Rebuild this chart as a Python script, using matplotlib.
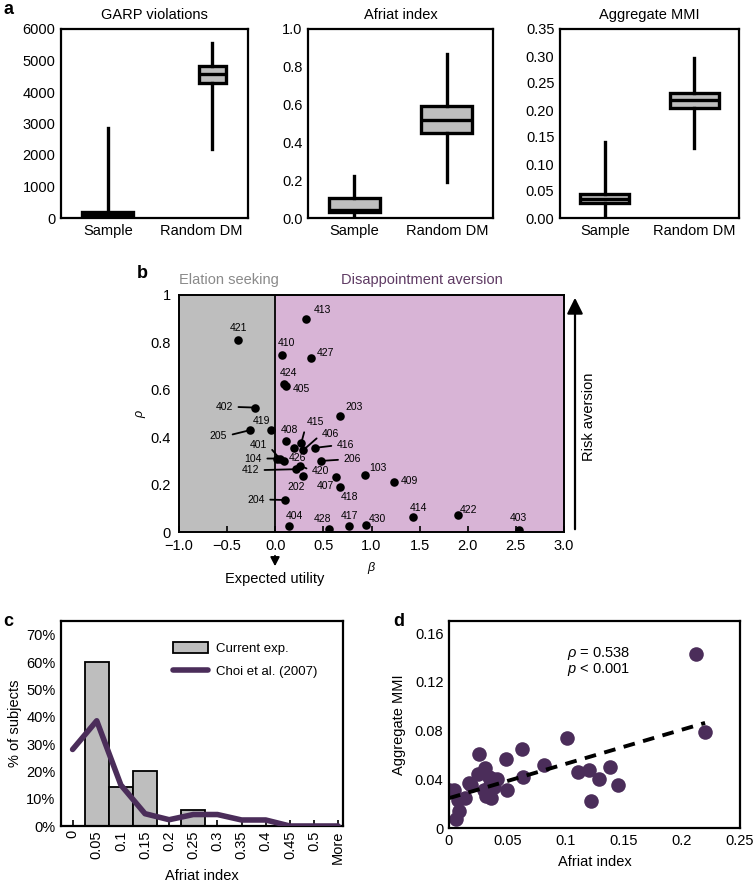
import matplotlib
matplotlib.use("Agg")
import matplotlib.pyplot as plt
import numpy as np
from matplotlib.patches import Patch
from matplotlib.lines import Line2D

plt.rcParams['font.family'] = ['Liberation Sans', 'DejaVu Sans']
plt.rcParams['mathtext.fontset'] = 'custom'
plt.rcParams['mathtext.rm'] = 'Liberation Sans'
plt.rcParams['mathtext.it'] = 'Liberation Sans:italic'
plt.rcParams['axes.unicode_minus'] = True

# ---------------- DATA ----------------
# Panel a: box plot summaries (whislo, q1, med, q3, whishi)
garp_titles = ["GARP violations", "Afriat index", "Aggregate MMI"]
box_groups = ["Sample", "Random DM"]
garp_sample = [0, 10, 100, 200, 2870]
garp_random = [2200, 4280, 4580, 4820, 5550]
afriat_sample = [0.0, 0.03, 0.04, 0.105, 0.22]
afriat_random = [0.19, 0.45, 0.52, 0.59, 0.87]
mmi_sample = [0.005, 0.028, 0.035, 0.045, 0.14]
mmi_random = [0.13, 0.203, 0.218, 0.232, 0.297]

# Panel b: subject estimates (beta, rho)
b_labels = ["413", "421", "410", "427", "424", "405", "402", "203", "205", "419",
            "408", "415", "406", "416", "", "401", "104", "426", "206", "412",
            "420", "103", "202", "407", "409", "418", "204", "404", "428", "417",
            "430", "414", "422", "403"]
b_beta = [0.32, -0.39, 0.07, 0.37, 0.09, 0.115, -0.21, 0.67, -0.26, -0.045,
          0.11, 0.27, 0.29, 0.41, 0.19, 0.045, 0.015, 0.09, 0.48, 0.215,
          0.26, 0.93, 0.29, 0.63, 1.23, 0.67, 0.10, 0.14, 0.56, 0.77,
          0.94, 1.43, 1.90, 2.53]
b_rho = [0.90, 0.81, 0.745, 0.735, 0.625, 0.615, 0.525, 0.49, 0.43, 0.43,
         0.385, 0.375, 0.345, 0.355, 0.355, 0.31, 0.31, 0.30, 0.30, 0.265,
         0.28, 0.24, 0.235, 0.23, 0.21, 0.19, 0.135, 0.025, 0.013, 0.025,
         0.03, 0.062, 0.07, 0.01]
# label text positions (beta, rho) and whether a leader line is drawn
b_text_x = [0.49, -0.38, 0.12, 0.52, 0.14, 0.27, -0.53, 0.82, -0.59, -0.14,
            0.15, 0.42, 0.57, 0.73, 0.19, -0.17, -0.23, 0.23, 0.80, -0.26,
            0.47, 1.07, 0.22, 0.52, 1.39, 0.77, -0.20, 0.20, 0.49, 0.77,
            1.06, 1.49, 2.01, 2.53]
b_text_y = [0.937, 0.859, 0.799, 0.756, 0.669, 0.603, 0.528, 0.528, 0.406, 0.469,
            0.430, 0.465, 0.413, 0.366, 0.355, 0.369, 0.310, 0.313, 0.306, 0.261,
            0.258, 0.272, 0.190, 0.193, 0.215, 0.148, 0.137, 0.066, 0.056, 0.066,
            0.056, 0.100, 0.093, 0.058]
b_leader = [0, 0, 0, 0, 0, 0, 1, 0, 1, 0,
            0, 1, 1, 1, 0, 1, 1, 0, 1, 1,
            1, 0, 1, 0, 0, 0, 1, 0, 0, 0,
            0, 0, 0, 0]

# Panel c: histogram of Afriat index
c_bins = ["0", "0.05", "0.1", "0.15", "0.2", "0.25", "0.3", "0.35", "0.4", "0.45", "0.5", "More"]
c_current = [0.0, 60.0, 14.3, 20.0, 0.0, 5.7, 0.0, 0.0, 0.0, 0.0, 0.0, 0.0]
c_choi = [28.0, 38.5, 15.0, 4.5, 2.3, 4.2, 4.2, 2.2, 2.2, 0.0, 0.0, 0.0]

# Panel d: Afriat index vs aggregate MMI
d_afriat = [0.212, 0.220, 0.101, 0.063, 0.026, 0.049, 0.082, 0.111, 0.120, 0.138,
            0.129, 0.145, 0.122, 0.064, 0.050, 0.031, 0.025, 0.038, 0.035, 0.032,
            0.036, 0.039, 0.034, 0.017, 0.019, 0.014, 0.008, 0.009, 0.006, 0.000,
            0.004, 0.030, 0.041]
d_mmi = [0.143, 0.079, 0.074, 0.065, 0.061, 0.057, 0.052, 0.046, 0.048, 0.050,
         0.040, 0.035, 0.022, 0.042, 0.031, 0.049, 0.044, 0.040, 0.035, 0.026,
         0.025, 0.034, 0.042, 0.037, 0.035, 0.025, 0.023, 0.014, 0.007, 0.031,
         0.031, 0.031, 0.040]
d_fit_intercept = 0.0245
d_fit_slope = 0.281
d_fit_range = [0.0, 0.22]

# ---------------- STYLE ----------------
PURPLE = '#4B2D5A'
GREY_BOX = '#BEBEBE'
W, H = 754, 882
fig = plt.figure(figsize=(W / 100, H / 100), dpi=100)


def px_axes(l, t, r, b):
    return fig.add_axes([l / W, 1 - b / H, (r - l) / W, (b - t) / H])


def style_spines(ax, lw):
    for s in ax.spines.values():
        s.set_linewidth(lw)


def stats(v, label):
    return dict(whislo=v[0], q1=v[1], med=v[2], q3=v[3], whishi=v[4], fliers=[], label=label)

# ---------------- Panel a ----------------
a_boxes = [(61, 248), (308, 493), (560, 739)]
a_data = [(garp_sample, garp_random), (afriat_sample, afriat_random), (mmi_sample, mmi_random)]
a_ylim = [(0, 6000), (0, 1.0), (0, 0.35)]
a_ticks = [np.arange(0, 6001, 1000), np.arange(0, 1.01, 0.2), np.arange(0, 0.351, 0.05)]
a_fmt = ["{:.0f}", "{:.1f}", "{:.2f}"]
a_pos = [[1, 2.12], [1, 2], [1, 2]]
a_w = [[0.55, 0.29], [0.55, 0.55], [0.55, 0.55]]
for i, (l, r) in enumerate(a_boxes):
    ax = px_axes(l, 29, r, 218)
    s, rd = a_data[i]
    ax.bxp([stats(s, box_groups[0]), stats(rd, box_groups[1])], positions=a_pos[i], widths=a_w[i],
           patch_artist=True, showcaps=False, showfliers=False,
           boxprops=dict(facecolor=GREY_BOX, edgecolor='black', linewidth=2.4),
           medianprops=dict(color='black', linewidth=2.4),
           whiskerprops=dict(color='black', linewidth=2.4))
    ax.set_xlim(0.5, 2.5)
    ax.set_ylim(*a_ylim[i])
    ax.set_xticks([1, 2])
    ax.set_xticklabels(box_groups, fontsize=10.5)
    ax.set_yticks(a_ticks[i])
    ax.set_yticklabels([a_fmt[i].format(t) for t in a_ticks[i]], fontsize=10.5)
    ax.tick_params(length=0, pad=4)
    ax.set_title(garp_titles[i], fontsize=10.5, pad=7)
    style_spines(ax, 1.6)
fig.text(3 / W, 1 - 10 / H, 'a', fontsize=13, fontweight='bold', va='center', ha='left')

# ---------------- Panel b ----------------
axb = px_axes(179, 295, 564, 532)
axb.axvspan(-1.0, 0.0, color='#BEBEBE', zorder=0, lw=0)
axb.axvspan(0.0, 3.0, color='#D8B4D6', zorder=0, lw=0)
axb.axvline(0.0, color='black', lw=1.3, zorder=1)
axb.scatter(b_beta, b_rho, s=38, color='black', zorder=3, linewidths=0)
for lab, px, py, tx, ty, ld in zip(b_labels, b_beta, b_rho, b_text_x, b_text_y, b_leader):
    if not lab:
        continue
    if ld:
        rel = (1, 0.5) if tx < px else (0, 0.5)
        axb.annotate(lab, xy=(px, py), xytext=(tx, ty), fontsize=7.5, ha='center', va='center',
                     arrowprops=dict(arrowstyle='-', lw=1.3, color='black', shrinkA=2, shrinkB=0,
                                     relpos=rel), zorder=2)
    else:
        axb.text(tx, ty, lab, fontsize=7.5, ha='center', va='center', zorder=2)
axb.set_xlim(-1.0, 3.0)
axb.set_ylim(0, 1)
axb.set_xticks(np.arange(-1.0, 3.01, 0.5))
axb.set_xticklabels([f"{t:.1f}".replace('-', '\u2212') for t in np.arange(-1.0, 3.01, 0.5)], fontsize=10.5)
axb.set_yticks([0, 0.2, 0.4, 0.6, 0.8, 1.0])
axb.set_yticklabels(["0", "0.2", "0.4", "0.6", "0.8", "1"], fontsize=10.5)
axb.tick_params(axis='x', direction='in', length=4, width=1.2, pad=5)
axb.tick_params(axis='y', length=0, pad=6)
style_spines(axb, 1.4)
axb.set_ylabel(r'$\rho$', fontsize=9, labelpad=2)
axb.set_xlabel(r'$\beta$', fontsize=9, labelpad=5)
axb.text(-1.0, 1.035, 'Elation seeking', color='#8A8A8A', fontsize=10.5,
         ha='left', va='bottom', clip_on=False)
axb.text(0.68, 1.035, 'Disappointment aversion', color='#5E3A63', fontsize=10.5,
         ha='left', va='bottom', clip_on=False)
fig.text(137 / W, 1 - 273 / H, 'b', fontsize=13, fontweight='bold', va='center', ha='left')
# Risk aversion arrow
fig.add_artist(matplotlib.patches.FancyArrowPatch((575 / W, 1 - 532 / H), (575 / W, 1 - 295 / H),
               transform=fig.transFigure, arrowstyle='-|>,head_length=6,head_width=3',
               mutation_scale=1.6, lw=1.6, color='black'))
fig.text(589 / W, 1 - 417 / H, 'Risk aversion', rotation=90, fontsize=10.5, va='center', ha='center')
# Expected utility arrow
fig.add_artist(matplotlib.patches.FancyArrowPatch((275 / W, 1 - 553 / H), (275 / W, 1 - 569 / H),
               transform=fig.transFigure, arrowstyle='-|>,head_length=3.5,head_width=1.8',
               mutation_scale=1.5, lw=1.3, color='black'))
fig.text(275 / W, 1 - 579 / H, 'Expected utility', fontsize=10.5, va='center', ha='center')

# ---------------- Panel c ----------------
axc = px_axes(61, 621, 343, 826)
xc = np.arange(len(c_bins))
axc.bar(xc, c_current, width=1.0, color=GREY_BOX, edgecolor='black', linewidth=1.3,
        label='Current exp.', zorder=2)
axc.plot(xc, c_choi, color=PURPLE, lw=4, solid_joinstyle='round', solid_capstyle='round',
         label='Choi et al. (2007)', zorder=3)
axc.set_xlim(-0.48, 11.2)
axc.set_ylim(0, 75)
axc.set_yticks(np.arange(0, 71, 10))
axc.set_yticklabels([f"{t}%" for t in range(0, 71, 10)], fontsize=10.5)
axc.set_xticks(xc)
axc.set_xticklabels(c_bins, rotation=90, fontsize=10.5)
axc.tick_params(axis='x', direction='in', length=4, width=1.2, pad=3)
axc.tick_params(axis='y', length=0, pad=4)
axc.set_xlabel('Afriat index', fontsize=10.5, labelpad=4)
axc.set_ylabel('% of subjects', fontsize=10.5, labelpad=3)
style_spines(axc, 1.6)
handles = [Patch(facecolor=GREY_BOX, edgecolor='black', linewidth=1.3),
           Line2D([0], [0], color=PURPLE, lw=4, solid_capstyle='round')]
axc.legend(handles, ['Current exp.', 'Choi et al. (2007)'], loc='upper left',
           bbox_to_anchor=(0.38, 0.925), frameon=False, fontsize=9.5, handlelength=2.6,
           handleheight=0.9, handletextpad=0.6, borderaxespad=0, labelspacing=0.75)
fig.text(3 / W, 1 - 622 / H, 'c', fontsize=13, fontweight='bold', va='center', ha='left')

# ---------------- Panel d ----------------
axd = px_axes(449, 621, 740, 828)
axd.scatter(d_afriat, d_mmi, s=110, color=PURPLE, linewidths=0, zorder=2)
fx = np.array(d_fit_range)
axd.plot(fx, d_fit_intercept + d_fit_slope * fx, ls=(0, (3, 2.2)), color='black', lw=2.8, zorder=3)
axd.set_xlim(0, 0.25)
axd.set_ylim(0, 0.17)
axd.set_xticks([0, 0.05, 0.1, 0.15, 0.2, 0.25])
axd.set_xticklabels(["0", "0.05", "0.1", "0.15", "0.2", "0.25"], fontsize=10.5)
axd.set_yticks([0, 0.04, 0.08, 0.12, 0.16])
axd.set_yticklabels(["0", "0.04", "0.08", "0.12", "0.16"], fontsize=10.5)
axd.tick_params(length=0, pad=4)
axd.set_xlabel('Afriat index', fontsize=10.5, labelpad=5)
axd.set_ylabel('Aggregate MMI', fontsize=10.5, labelpad=6)
style_spines(axd, 1.6)
axd.text(0.101, 0.1435, r'$\it{\rho}$ = 0.538', fontsize=10.5, ha='left', va='center')
axd.text(0.101, 0.1300, r'$\it{p}$ < 0.001', fontsize=10.5, ha='left', va='center')
fig.text(393 / W, 1 - 622 / H, 'd', fontsize=13, fontweight='bold', va='center', ha='left')

fig.savefig('out.png', dpi=100)
